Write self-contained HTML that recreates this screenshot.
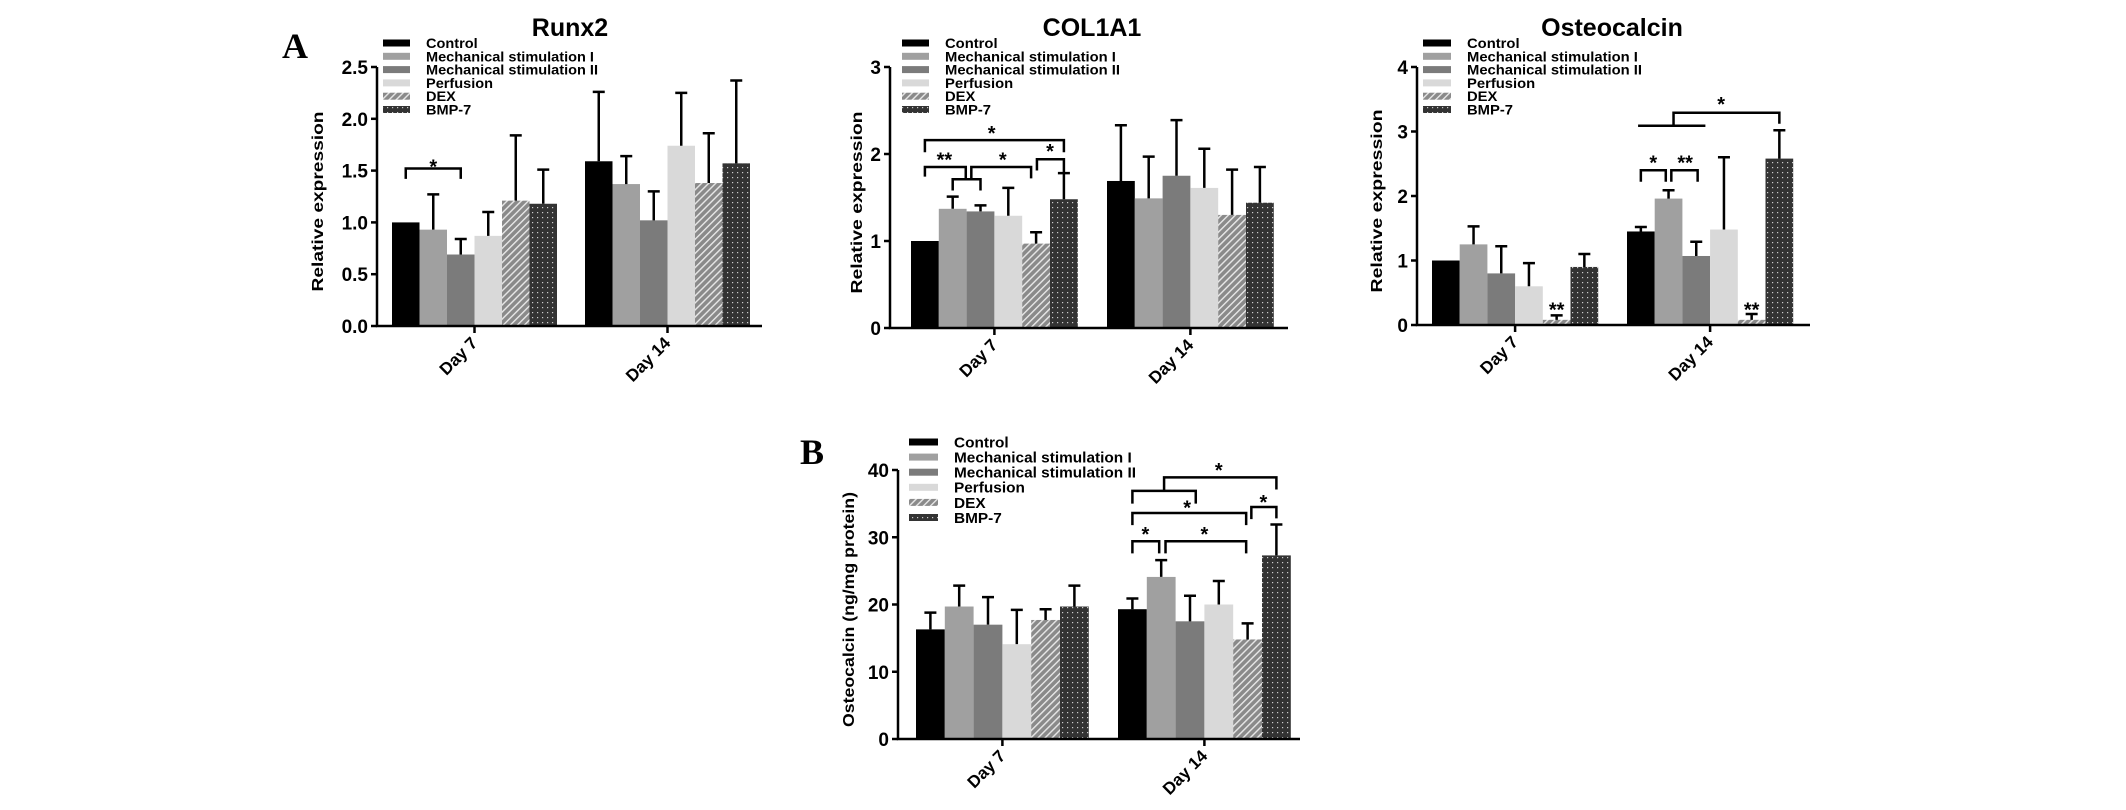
<!DOCTYPE html>
<html><head><meta charset="utf-8"><style>
html,body{margin:0;padding:0;background:#fff;}
svg{display:block;font-family:"Liberation Sans",Arial,sans-serif;}
</style></head><body>
<svg id="fig" width="2126" height="810" viewBox="0 0 2126 810">
<defs>
<pattern id="hatch" patternUnits="userSpaceOnUse" width="5" height="5" patternTransform="rotate(45)">
<rect width="5" height="5" fill="#8a8a8a"/><rect x="0" y="0" width="1.4" height="5" fill="#e8e8e8"/>
</pattern>
<pattern id="dots" patternUnits="userSpaceOnUse" width="5" height="5">
<rect width="5" height="5" fill="#333"/><rect x="2" y="2" width="1.2" height="1.2" fill="#ccc"/>
</pattern>
</defs>
<text x="282" y="58" font-family="Liberation Serif,serif" font-weight="bold" font-size="36">A</text>
<text x="800" y="464" font-family="Liberation Serif,serif" font-weight="bold" font-size="36">B</text>
</svg>
<script>
const categories = ['Day 7', 'Day 14'];
const seriesNames = ['Control', 'Mechanical stimulation I', 'Mechanical stimulation II', 'Perfusion', 'DEX', 'BMP-7'];
const runx2Values = [[1.0, 0.93, 0.69, 0.87, 1.21, 1.18], [1.59, 1.37, 1.02, 1.74, 1.38, 1.57]];
const runx2Errors = [[0, 0.34, 0.15, 0.23, 0.63, 0.33], [0.67, 0.27, 0.28, 0.51, 0.48, 0.80]];
const runx2Ticks = ['0.0', '0.5', '1.0', '1.5', '2.0', '2.5'];
const col1a1Values = [[1.0, 1.37, 1.34, 1.29, 0.97, 1.48], [1.69, 1.49, 1.75, 1.61, 1.30, 1.44]];
const col1a1Errors = [[0, 0.14, 0.07, 0.32, 0.13, 0.30], [0.64, 0.48, 0.64, 0.45, 0.52, 0.41]];
const col1a1Ticks = ['0', '1', '2', '3'];
const ocnValues = [[1.0, 1.25, 0.80, 0.60, 0.08, 0.90], [1.45, 1.96, 1.07, 1.48, 0.08, 2.58]];
const ocnErrors = [[0, 0.28, 0.42, 0.36, 0.07, 0.20], [0.07, 0.13, 0.22, 1.12, 0.09, 0.44]];
const ocnTicks = ['0', '1', '2', '3', '4'];
const ocnProteinValues = [[16.3, 19.7, 17.0, 14.1, 17.7, 19.7], [19.3, 24.1, 17.5, 20.0, 14.8, 27.3]];
const ocnProteinErrors = [[2.5, 3.1, 4.1, 5.1, 1.6, 3.1], [1.6, 2.5, 3.8, 3.5, 2.4, 4.6]];
const ocnProteinTicks = ['0', '10', '20', '30', '40'];
// significance annotations: [groupIndex, polyline points [barPos, value], starText, starPos, starValue]
const runx2Sig = [[0, [[0,1.42],[0,1.52],[2,1.52],[2,1.42]], '*', 1, 1.58]];
const col1a1Sig = [
 [0, [[0,2.02],[0,2.16],[5,2.16],[5,2.02]], '*', 2.4, 2.29],
 [0, [[0,1.74],[0,1.85],[1.47,1.85],[1.47,1.71]], '**', 0.7, 1.98],
 [0, [[1,1.58],[1,1.71],[2,1.71],[2,1.58]], '', 0, 0],
 [0, [[1.67,1.71],[1.67,1.85],[3.82,1.85],[3.82,1.72]], '*', 2.8, 1.98],
 [0, [[4.03,1.81],[4.03,1.94],[5,1.94],[5,1.79]], '*', 4.5, 2.08]
];
const ocnSig = [
 [1, [[0,2.22],[0,2.40],[0.9,2.40],[0.9,2.22]], '*', 0.45, 2.58],
 [1, [[1.1,2.22],[1.1,2.40],[2.05,2.40],[2.05,2.22]], '**', 1.6, 2.58],
 [1, [[-0.1,3.09],[2.33,3.09]], '', 0, 0],
 [1, [[1.18,3.09],[1.18,3.29],[5,3.29],[5,3.12]], '*', 2.9, 3.49],
 [0, [], '**', 4, 0.3],
 [1, [], '**', 4, 0.3]
];
const ocnProteinSig = [
 [1, [[0,35.0],[0,36.9],[2.2,36.9],[2.2,35.0]], '', 0, 0],
 [1, [[1.1,36.9],[1.1,38.9],[5,38.9],[5,37.1]], '*', 3.0, 40.6],
 [1, [[0,31.8],[0,33.6],[3.95,33.6],[3.95,31.8]], '*', 1.9, 35.0],
 [1, [[4.13,32.7],[4.13,34.5],[5,34.5],[5,32.8]], '*', 4.55, 35.8],
 [1, [[0,27.6],[0,29.4],[0.93,29.4],[0.93,27.6]], '*', 0.45, 31.1],
 [1, [[1.15,27.6],[1.15,29.4],[3.95,29.4],[3.95,27.6]], '*', 2.5, 31.1]
];

const fills = ['#000', '#a0a0a0', '#7b7b7b', '#d9d9d9', 'url(#hatch)', 'url(#dots)'];
const NS = 'http://www.w3.org/2000/svg';
const svg = document.getElementById('fig');
function mk(tag, attrs, parent) {
  const e = document.createElementNS(NS, tag);
  for (const k in attrs) e.setAttribute(k, attrs[k]);
  (parent || svg).appendChild(e);
  return e;
}
function panel(cfg) {
  const g = mk('g', {});
  
  
  const yS = v => cfg.y0 - (v / cfg.max) * (cfg.y0 - cfg.yTop);
  const xS = (gi, pos) => cfg.groups[gi] + (pos + 0.5) * cfg.barW;
  if (cfg.title) {
    const t = mk('text', {x: cfg.titleX, y: 36, 'text-anchor': 'middle', 'font-weight': 'bold', 'font-size': 25}, g);
    t.textContent = cfg.title;
    
    
  }
  cfg.values.forEach((arr, gi) => arr.forEach((v, i) => {
    const r = mk('rect', {x: cfg.groups[gi] + i * cfg.barW, y: yS(v), width: cfg.barW, height: cfg.y0 - yS(v), fill: fills[i]}, g);
    
    
    const e = cfg.errors[gi][i];
    if (e > 0) {
      const cx = xS(gi, i);
      const p = mk('path', {d: `M${cx},${yS(v)}V${yS(v + e)}M${cx - cfg.cap},${yS(v + e)}H${cx + cfg.cap}`, stroke: '#000', 'stroke-width': 2.5, fill: 'none'}, g);
      
      
    }
  }));
  const ax = mk('path', {d: `M${cfg.x0},${cfg.yTop}V${cfg.y0}H${cfg.xEnd}`, stroke: '#000', 'stroke-width': 2.5, fill: 'none'}, g);
  
  
  cfg.ticks.forEach((lab, i) => {
    const v = cfg.max * i / (cfg.ticks.length - 1);
    const y = yS(v);
    mk('path', {d: `M${cfg.x0 - 6},${y}H${cfg.x0}`, stroke: '#000', 'stroke-width': 2.5}, g);
    const t = mk('text', {x: cfg.x0 - 9, y: y + 7, 'text-anchor': 'end', 'font-weight': 'bold', 'font-size': 19}, g);
    t.textContent = lab;
    
    
  });
  categories.forEach((c, gi) => {
    const cx = cfg.groups[gi] + 3 * cfg.barW;
    mk('path', {d: `M${cx},${cfg.y0}V${cfg.y0 + 7}`, stroke: '#000', 'stroke-width': 2.5}, g);
    const t = mk('text', {x: cx + 4, y: cfg.y0 + 18, 'text-anchor': 'end', 'font-weight': 'bold', 'font-size': 17, transform: `rotate(-45 ${cx + 4} ${cfg.y0 + 18})`}, g);
    t.textContent = c;
    
    
  });
  const yl = mk('text', {x: cfg.ylX, y: (cfg.y0 + cfg.yTop) / 2 + 5, 'text-anchor': 'middle', 'font-weight': 'bold', 'font-size': 16, transform: `rotate(-90 ${cfg.ylX} ${(cfg.y0 + cfg.yTop) / 2 + 5})`, textLength: cfg.ylLen, lengthAdjust: 'spacingAndGlyphs'}, g);
  yl.textContent = cfg.ylabel;
  
  
  const lg = mk('g', {}, g);
  
  
  const texts = [];
  seriesNames.forEach((s, i) => {
    const y = cfg.leg.y + i * cfg.leg.dy;
    mk('rect', {x: cfg.leg.sx, y: y - 3.5, width: cfg.leg.sw, height: 7, fill: fills[i]}, lg);
    const t = mk('text', {x: cfg.leg.tx, y: y + cfg.leg.fs * 0.36, 'font-weight': 'bold', 'font-size': cfg.leg.fs}, lg);
    t.textContent = s;
    
    
    texts.push(t);
  });
  const longest = texts[2].getComputedTextLength();
  const sc = longest > 0 ? cfg.leg.targetW / longest : 1;
  texts.forEach(t => {
    const w = t.getComputedTextLength();
    if (w > 0) { t.setAttribute('textLength', w * sc); t.setAttribute('lengthAdjust', 'spacingAndGlyphs'); }
  });
  cfg.sig.forEach(s => {
    const [gi, pts, star, sp, sv] = s;
    if (pts.length) {
      const p = mk('polyline', {points: pts.map(q => xS(gi, q[0]) + ',' + yS(q[1])).join(' '), stroke: '#000', 'stroke-width': 2.5, fill: 'none'}, g);
      
      
    }
    if (star) {
      const t = mk('text', {x: xS(gi, sp), y: yS(sv) + 11, 'text-anchor': 'middle', 'font-weight': 'bold', 'font-size': 20}, g);
      t.textContent = star;
      
      
    }
  });
}
panel({name: 'runx2-chart', title: 'Runx2', titleX: 570, values: runx2Values, errors: runx2Errors, ticks: runx2Ticks, max: 2.5,
  x0: 377, xEnd: 762, y0: 326, yTop: 67, groups: [392, 585], barW: 27.5, cap: 6, ylX: 323, ylLen: 180, ylabel: 'Relative expression',
  leg: {sx: 383, sw: 27, tx: 426, y: 43, dy: 13.3, fs: 14, targetW: 172}, sig: runx2Sig});
panel({name: 'col1a1-chart', title: 'COL1A1', titleX: 1092, values: col1a1Values, errors: col1a1Errors, ticks: col1a1Ticks, max: 3,
  x0: 890, xEnd: 1288, y0: 328, yTop: 67, groups: [911, 1107], barW: 27.8, cap: 6, ylX: 862, ylLen: 182, ylabel: 'Relative expression',
  leg: {sx: 902, sw: 27, tx: 945, y: 43, dy: 13.3, fs: 14, targetW: 175}, sig: col1a1Sig});
panel({name: 'osteocalcin-chart', title: 'Osteocalcin', titleX: 1612, values: ocnValues, errors: ocnErrors, ticks: ocnTicks, max: 4,
  x0: 1417, xEnd: 1810, y0: 325, yTop: 67, groups: [1432, 1627], barW: 27.7, cap: 6, ylX: 1382, ylLen: 183, ylabel: 'Relative expression',
  leg: {sx: 1423, sw: 28, tx: 1467, y: 43, dy: 13.3, fs: 14, targetW: 175}, sig: ocnSig});
panel({name: 'osteocalcin-protein-chart', title: '', titleX: 0, values: ocnProteinValues, errors: ocnProteinErrors, ticks: ocnProteinTicks, max: 40,
  x0: 898, xEnd: 1300, y0: 739, yTop: 470, groups: [916, 1118], barW: 28.8, cap: 6, ylX: 854, ylLen: 235, ylabel: 'Osteocalcin (ng/mg protein)',
  leg: {sx: 909, sw: 29, tx: 954, y: 442, dy: 15.1, fs: 15, targetW: 182}, sig: ocnProteinSig});
</script>
</body></html>
